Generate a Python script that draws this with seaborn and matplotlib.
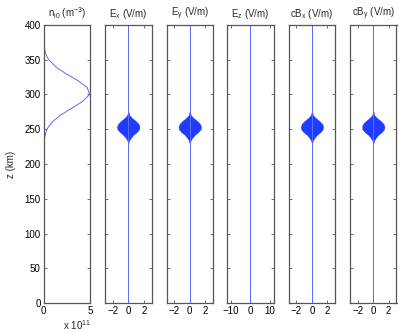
import numpy as np
import pandas as pd
import matplotlib
matplotlib.use("Agg")
import matplotlib.pyplot as plt
import seaborn as sns

# ---- data ----
z_dens = [0, 100, 200, 210, 220, 230, 240, 250, 260, 270, 280, 290, 300,
          310, 320, 330, 340, 350, 360, 370, 380, 390, 400]
n_i0 = [0.0, 0.0, 0.0, 0.003, 0.01, 0.04, 0.14, 0.36, 0.9, 1.8, 3.0, 4.2, 4.95,
        4.7, 3.7, 2.4, 1.3, 0.55, 0.2, 0.06, 0.015, 0.004, 0.001]  # x 1e11 m^-3

z_line = [0, 400]
field_zero = [0, 0]

# envelope of the dense wave packet (half-width in V/m)
z_pkt = [230, 234, 238, 242, 246, 250, 254, 258, 262, 266, 270, 275]
amp_pkt = [0.03, 0.12, 0.35, 0.65, 1.1, 1.4, 1.45, 1.3, 0.95, 0.5, 0.15, 0.03]

titles = ["n$_{i0}$ (m$^{-3}$)", "E$_x$ (V/m)", "E$_y$ (V/m)", "E$_z$ (V/m)",
          "cB$_x$ (V/m)", "cB$_y$ (V/m)"]
has_packet = [False, True, True, False, True, True]
xlims = [(0, 5e11), (-3, 3), (-3, 3), (-12, 12), (-3, 3), (-3, 3)]
xticks = [[0, 5e11], [-2, 0, 2], [-2, 0, 2], [-10, 0, 10], [-2, 0, 2], [-2, 0, 2]]
xticklabels = [["0", "5"], ["\u22122", "0", "2"], ["\u22122", "0", "2"],
               ["\u221210", "0", "10"], ["\u22122", "0", "2"], ["\u22122", "0", "2"]]
yticks = list(range(0, 401, 50))

# ---- style ----
sns.set_style("ticks")
plt.rcParams["font.family"] = ["Liberation Sans", "DejaVu Sans"]
plt.rcParams["font.size"] = 7
plt.rcParams["mathtext.fontset"] = "custom"
plt.rcParams["mathtext.rm"] = "Liberation Sans"
plt.rcParams["mathtext.it"] = "Liberation Sans"

W, H = 399, 332
fig = plt.figure(figsize=(W / 100, H / 100), dpi=100)
fig.patch.set_facecolor("white")

lefts = [43.5, 105, 166.5, 227, 288.7, 350]
pw, top_px, bot_px = 46.5, 25, 303

line_blue = "#5a6cff"
pkt_blue = "#1f3cff"

for i in range(6):
    ax = fig.add_axes([lefts[i] / W, (H - bot_px) / H, pw / W, (bot_px - top_px) / H])
    if i == 0:
        df = pd.DataFrame({"n": np.array(n_i0) * 1e11, "z": z_dens})
        sns.lineplot(data=df, x="n", y="z", sort=False, estimator=None,
                     color=line_blue, lw=0.7, ax=ax)
    else:
        df = pd.DataFrame({"f": field_zero, "z": z_line})
        sns.lineplot(data=df, x="f", y="z", sort=False, estimator=None,
                     color=line_blue, lw=0.7, ax=ax)
        if has_packet[i]:
            ax.fill_betweenx(z_pkt, [-a for a in amp_pkt], amp_pkt,
                             color=pkt_blue, lw=0.3, edgecolor=pkt_blue)
    ax.set_xlim(*xlims[i])
    ax.set_ylim(0, 400)
    ax.set_xticks(xticks[i])
    ax.set_xticklabels(xticklabels[i])
    ax.set_yticks(yticks)
    if i == 0:
        ax.set_yticklabels([str(v) for v in yticks])
        ax.set_ylabel("z (km)", labelpad=6)
    else:
        ax.set_yticklabels([])
        ax.set_ylabel("")
    ax.set_xlabel("")
    ax.set_title(titles[i], pad=6, fontsize=7)
    ax.tick_params(direction="in", length=2.5, width=0.6, top=True, right=True,
                   colors="#555555", labelcolor="black", pad=2, labelsize=7)
    for s in ax.spines.values():
        s.set_visible(True)
        s.set_color("#555555")
        s.set_linewidth(0.9)

fig.text(77 / W, 1 - 325 / H, "x 10$^{11}$", ha="center", va="center", fontsize=7)

fig.savefig("out.png", dpi=100, facecolor="white")
